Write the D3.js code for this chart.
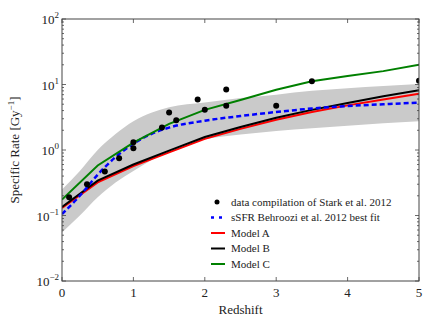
<!DOCTYPE html>
<html>
<head>
<meta charset="utf-8">
<script src="https://cdn.jsdelivr.net/npm/d3@7"></script>
<style>
  body { margin: 0; background: #fff; }
  text { font-family: "Liberation Serif", "DejaVu Serif", serif; fill: #222; }
</style>
</head>
<body>
<div id="chart"></div>
<script>
// observed points (Stark et al. 2012 compilation)
var obsZ    = [0.1, 0.35, 0.6, 0.8, 1.0, 1.0, 1.4, 1.5, 1.6, 1.9, 2.0, 2.3, 2.3, 3.0, 3.5, 5.0];
var obsRate = [0.19, 0.30, 0.47, 0.75, 1.31, 1.06, 2.2, 3.75, 2.85, 5.9, 4.1, 8.4, 4.75, 4.75, 11.2, 11.4];

// Behroozi best fit + band
var fitZ     = [0, 0.25, 0.5, 0.75, 1.0, 1.25, 1.5, 2.0, 2.5, 3.0, 3.5, 4.0, 4.5, 5.0];
var fitRate  = [0.105, 0.2, 0.42, 0.78, 1.25, 1.75, 2.2, 2.8, 3.3, 3.8, 4.3, 4.7, 5.0, 5.3];
var bandLow  = [0.055, 0.1, 0.19, 0.32, 0.48, 0.7, 0.98, 1.45, 1.72, 1.95, 2.15, 2.35, 2.55, 2.75];
var bandHigh = [0.25, 0.48, 1.0, 1.75, 2.75, 3.7, 4.5, 5.3, 6.2, 7.0, 8.0, 8.8, 9.5, 10.2];

// models
var modelZ = [0, 0.5, 1.0, 1.5, 2.0, 2.5, 3.0, 3.5, 4.0, 4.5, 5.0];
var modelA = [0.13, 0.32, 0.57, 0.92, 1.48, 2.1, 2.9, 3.8, 4.8, 5.9, 7.2];
var modelB = [0.135, 0.34, 0.6, 0.98, 1.58, 2.25, 3.1, 4.1, 5.2, 6.6, 8.2];
var modelC = [0.175, 0.58, 1.3, 2.5, 4.1, 5.8, 8.3, 11.2, 13.5, 16.0, 20.0];

var xTicks = [0, 1, 2, 3, 4, 5];
var yTicks = [-2, -1, 0, 1, 2];

var W = 436, H = 327,
    m = {top: 19, right: 17, bottom: 46, left: 62};

var svg = d3.select("#chart").append("svg")
  .attr("width", W).attr("height", H);

var x = d3.scaleLinear().domain([0, 5]).range([m.left, W - m.right]);
var y = d3.scaleLog().domain([0.01, 100]).range([H - m.bottom, m.top]);

svg.append("clipPath").attr("id", "clip")
  .append("rect")
  .attr("x", m.left).attr("y", m.top)
  .attr("width", W - m.left - m.right).attr("height", H - m.top - m.bottom);

var plot = svg.append("g").attr("clip-path", "url(#clip)");

// gray band
var band = fitZ.map(function(z, i) { return [z, bandLow[i], bandHigh[i]]; });
plot.append("path")
  .datum(band)
  .attr("fill", "#cacaca")
  .attr("d", d3.area()
    .x(function(d) { return x(d[0]); })
    .y0(function(d) { return y(d[1]); })
    .y1(function(d) { return y(d[2]); })
    .curve(d3.curveMonotoneX));

function drawLine(zs, vals, color, w, dash, curve) {
  var p = plot.append("path")
    .datum(zs.map(function(z, i) { return [z, vals[i]]; }))
    .attr("fill", "none")
    .attr("stroke", color)
    .attr("stroke-width", w)
    .attr("d", d3.line()
      .x(function(d) { return x(d[0]); })
      .y(function(d) { return y(d[1]); })
      .curve(curve || d3.curveLinear));
  if (dash) p.attr("stroke-dasharray", dash);
}

drawLine(modelZ, modelA, "#ff0000", 2);
drawLine(modelZ, modelB, "#000000", 2);
drawLine(fitZ, fitRate, "#0000ff", 2.5, "5,3", d3.curveMonotoneX);
drawLine(modelZ, modelC, "#008000", 2);

plot.selectAll("circle.obs")
  .data(obsZ.map(function(z, i) { return [z, obsRate[i]]; }))
  .enter().append("circle")
  .attr("class", "obs")
  .attr("cx", function(d) { return x(d[0]); })
  .attr("cy", function(d) { return y(d[1]); })
  .attr("r", 3)
  .attr("fill", "#000");

// frame + ticks (inward, all sides like matplotlib classic)
var axCol = "#444";
svg.append("rect")
  .attr("x", m.left).attr("y", m.top)
  .attr("width", W - m.left - m.right).attr("height", H - m.top - m.bottom)
  .attr("fill", "none").attr("stroke", axCol).attr("stroke-width", 1);

var tk = svg.append("g").attr("stroke", axCol).attr("stroke-width", 0.8);
xTicks.forEach(function(t) {
  tk.append("line").attr("x1", x(t)).attr("x2", x(t))
    .attr("y1", H - m.bottom).attr("y2", H - m.bottom - 4);
  tk.append("line").attr("x1", x(t)).attr("x2", x(t))
    .attr("y1", m.top).attr("y2", m.top + 4);
});
for (var e = -2; e < 2; e++) {
  for (var k = 1; k < 10; k++) {
    var v = k * Math.pow(10, e), len = k === 1 ? 4 : 2;
    tk.append("line").attr("x1", m.left).attr("x2", m.left + len)
      .attr("y1", y(v)).attr("y2", y(v));
    tk.append("line").attr("x1", W - m.right).attr("x2", W - m.right - len)
      .attr("y1", y(v)).attr("y2", y(v));
  }
}
tk.append("line").attr("x1", m.left).attr("x2", m.left + 4).attr("y1", y(100)).attr("y2", y(100));
tk.append("line").attr("x1", W - m.right).attr("x2", W - m.right - 4).attr("y1", y(100)).attr("y2", y(100));

// tick labels
svg.selectAll("text.xt").data(xTicks).enter().append("text")
  .attr("class", "xt")
  .attr("x", function(d) { return x(d); })
  .attr("y", H - m.bottom + 16)
  .attr("text-anchor", "middle")
  .attr("font-size", 13)
  .text(function(d) { return d; });

var yl = svg.selectAll("text.yt").data(yTicks).enter().append("text")
  .attr("class", "yt")
  .attr("x", m.left - 3)
  .attr("y", function(d) { return y(Math.pow(10, d)) + 5; })
  .attr("text-anchor", "end")
  .attr("font-size", 13);
yl.append("tspan").text("10");
yl.append("tspan").attr("dy", -6).attr("font-size", 9)
  .text(function(d) { return d < 0 ? "\u2212" + (-d) : d; });

// axis titles
svg.append("text")
  .attr("x", (m.left + W - m.right) / 2)
  .attr("y", H - m.bottom + 33)
  .attr("text-anchor", "middle")
  .attr("font-size", 13)
  .text("Redshift");

var yt = svg.append("text")
  .attr("transform", "translate(19," + ((m.top + H - m.bottom) / 2) + ") rotate(-90)")
  .attr("text-anchor", "middle")
  .attr("font-size", 13);
yt.append("tspan").text("Specific Rate [Gy");
yt.append("tspan").attr("dy", -5).attr("font-size", 9).text("\u22121");
yt.append("tspan").attr("dy", 5).text("]");

// legend
var legItems = [
  {label: "data compilation of Stark et al. 2012", type: "dot", color: "#000"},
  {label: "sSFR Behroozi et al. 2012 best fit", type: "dash", color: "#0000ff"},
  {label: "Model A", type: "line", color: "#ff0000"},
  {label: "Model B", type: "line", color: "#000000"},
  {label: "Model C", type: "line", color: "#008000"}
];
var leg = svg.append("g").attr("transform", "translate(211,202)");
legItems.forEach(function(it, i) {
  var g = leg.append("g").attr("transform", "translate(0," + (i * 15.5) + ")");
  if (it.type === "dot") {
    g.append("circle").attr("cx", 6).attr("cy", 0).attr("r", 2.5).attr("fill", it.color);
  } else if (it.type === "dash") {
    g.append("line").attr("x1", 0).attr("x2", 14).attr("y1", 0).attr("y2", 0)
      .attr("stroke", it.color).attr("stroke-width", 2.5).attr("stroke-dasharray", "3,5");
  } else {
    g.append("line").attr("x1", 0).attr("x2", 14).attr("y1", 0).attr("y2", 0)
      .attr("stroke", it.color).attr("stroke-width", 2);
  }
  g.append("text").attr("x", 20).attr("y", 3.5).attr("font-size", 11).text(it.label);
});
</script>
</body>
</html>
